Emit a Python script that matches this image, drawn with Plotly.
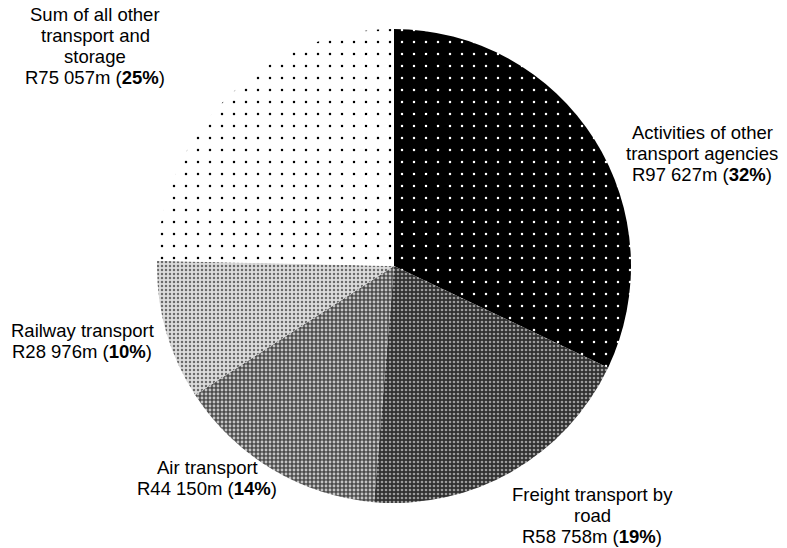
import plotly.graph_objects as go

# Transport and storage income by activity (R million), clockwise from 12 o'clock
categories = [
    "Activities of other transport agencies",
    "Freight transport by road",
    "Air transport",
    "Railway transport",
    "Sum of all other transport and storage",
]
values = [97627, 58758, 44150, 28976, 75057]
percent_labels = [32, 19, 14, 10, 25]

# Label text split into lines (category words) for each slice
label_lines = [
    ["Activities of other", "transport agencies"],
    ["Freight transport by", "road"],
    ["Air transport"],
    ["Railway transport"],
    ["Sum of all other", "transport and", "storage"],
]

# Fill patterns: dark with light dots → light with dark dots
pattern_bg = ["#000000", "#303030", "#4c4c4c", "#dcdcdc", "#ffffff"]
pattern_fg = ["#ffffff", "#9c9c9c", "#c4c4c4", "#6a6a6a", "#000000"]
pattern_size = [12, 4, 4, 4, 12]
pattern_solidity = [0.035, 0.35, 0.4, 0.3, 0.035]

W, H = 787, 548
cx, cy, r = 394, 266, 237

fig = go.Figure(
    go.Pie(
        labels=categories,
        values=values,
        sort=False,
        direction="clockwise",
        rotation=0,
        textinfo="none",
        hoverinfo="label+value+percent",
        marker=dict(
            colors=pattern_bg,
            line=dict(width=0),
            pattern=dict(
                shape=["."] * len(values),
                bgcolor=pattern_bg,
                fgcolor=pattern_fg,
                size=pattern_size,
                solidity=pattern_solidity,
                fillmode="replace",
            ),
        ),
        domain=dict(
            x=[(cx - r) / W, (cx + r) / W],
            y=[(H - cy - r) / H, (H - cy + r) / H],
        ),
        showlegend=False,
    )
)

# Label anchor (centre x, first-line y) in pixels, one per slice
label_pos = [(702, 132), (592, 494), (207, 467), (82, 330), (95, 14)]
line_step = 21.3


def fmt_value(v):
    return "R{:,}m".format(v).replace(",", " ")


annotations = []
for lines, v, p, (lx, ly) in zip(label_lines, values, percent_labels, label_pos):
    all_lines = lines + ["{} (<b>{}%</b>)".format(fmt_value(v), p)]
    for i, txt in enumerate(all_lines):
        y_px = ly + i * line_step
        annotations.append(
            dict(
                text=txt,
                x=lx / W,
                y=1 - y_px / H,
                xref="paper",
                yref="paper",
                xanchor="center",
                yanchor="middle",
                showarrow=False,
                font=dict(family="Liberation Sans, Arial, sans-serif", size=18.5, color="#000000"),
            )
        )

fig.update_layout(
    width=W,
    height=H,
    margin=dict(l=0, r=0, t=0, b=0),
    paper_bgcolor="#ffffff",
    plot_bgcolor="#ffffff",
    annotations=annotations,
)

fig.write_html("out.html")
